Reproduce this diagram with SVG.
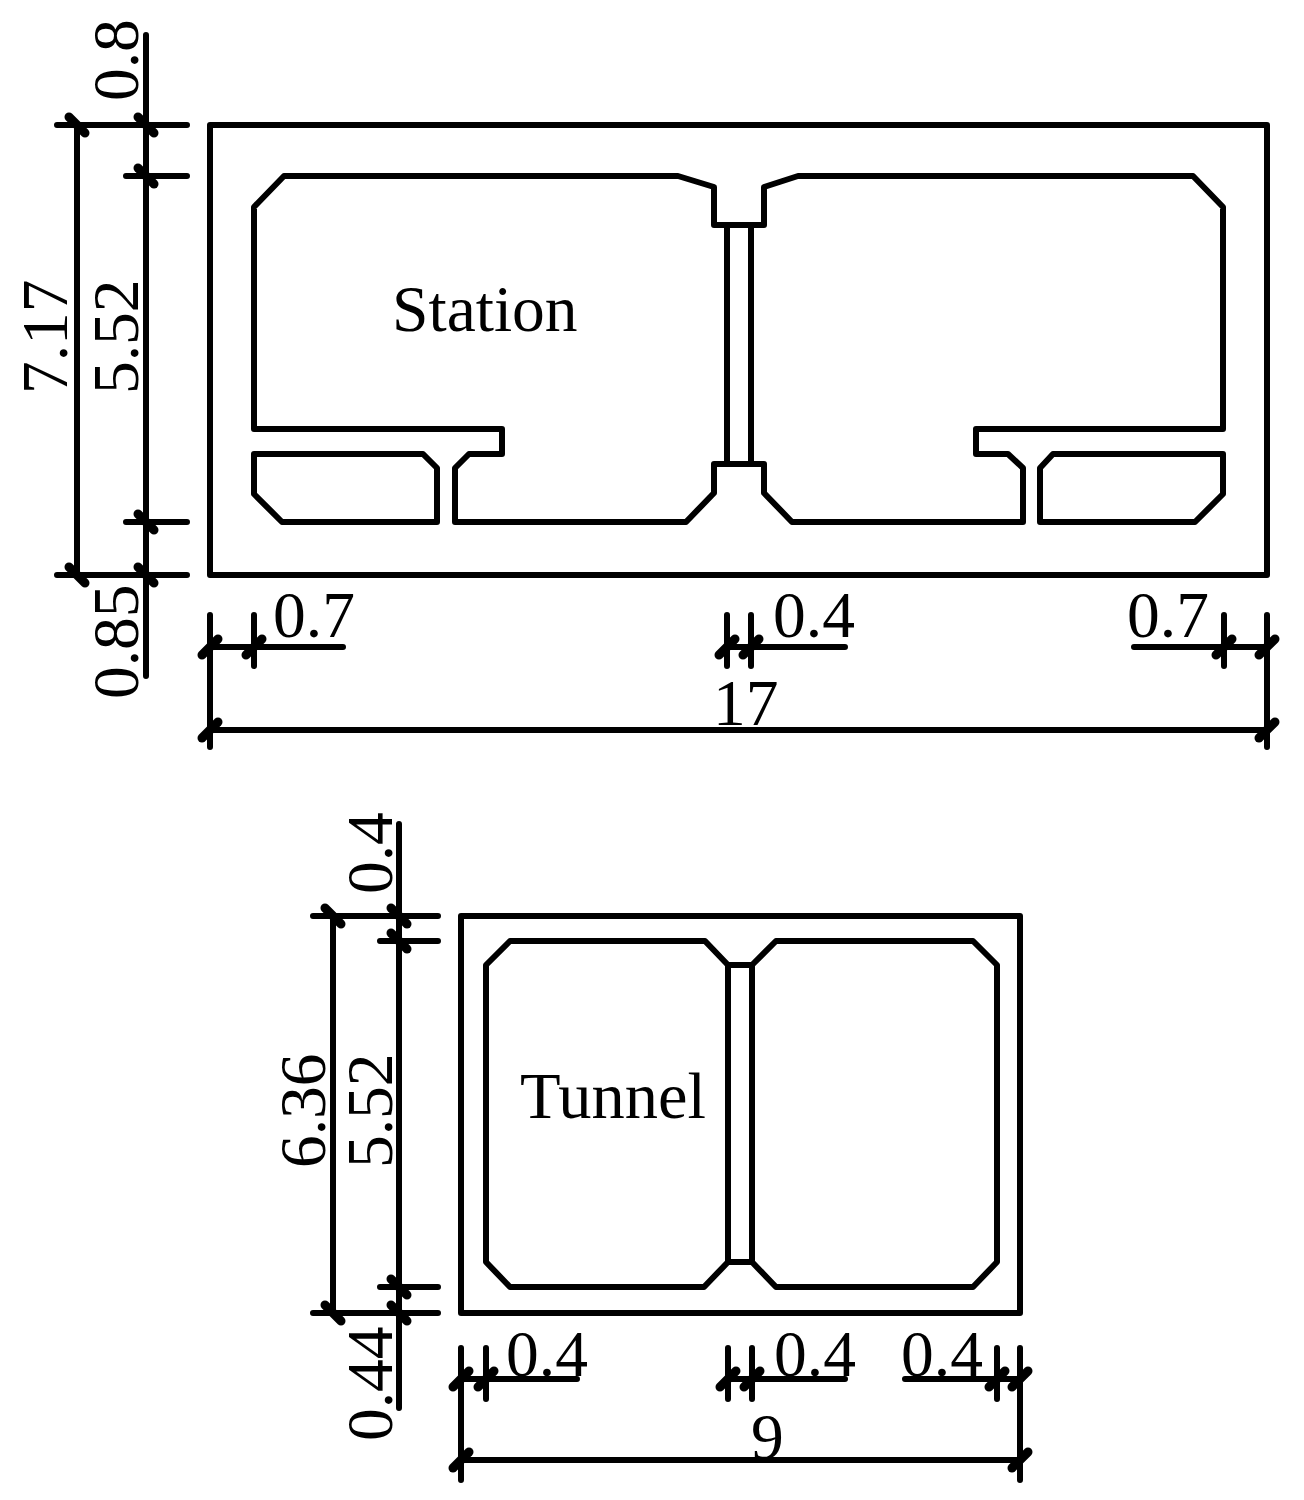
<svg xmlns="http://www.w3.org/2000/svg" xmlns:xlink="http://www.w3.org/1999/xlink" width="1304" height="1500" viewBox="0 0 1304 1500">
<style>
.s{fill:none;stroke:#000;stroke-width:6;stroke-linejoin:round;stroke-linecap:round}
.b{stroke-linecap:butt}
.t{stroke:#000;stroke-width:9;stroke-linecap:round;fill:none}
text{font-family:"Liberation Serif","Times New Roman",serif;font-size:65.5px;fill:#000}
</style>
<defs>
<line id="a" class="t" x1="-8" y1="-8" x2="8" y2="8"/>
<line id="c" class="t" x1="-8" y1="8" x2="8" y2="-8"/>
</defs>
<rect width="1304" height="1500" fill="#fff"/>
<g id="station">
<rect class="s" x="210" y="125" width="1057" height="450"/>
<path class="s" d="M254 207L284 176H678L714 187V225H764V187L798 176H1193L1223 207V429H976V454H1008L1023 468V522H792L764 493V464H714V493L686 522H455V468L469 454H502V429H254Z"/>
<path class="s" d="M254 454H423L437 468V522H282L254 494Z"/>
<path class="s" d="M1040 468L1053 454H1223V494L1195 522H1040Z"/>
<path class="s b" d="M727 225V464M751 225V464"/>
<text x="392" y="331">Station</text>
</g>
<g id="tunnel">
<rect class="s" x="461" y="916" width="559" height="397"/>
<path class="s" d="M486 965L510 941H705L728 965H752L776 941H973L997 965V1262L973 1287H776L752 1262H728L704 1287H510L486 1262Z"/>
<path class="s b" d="M728 965V1262M752 965V1262"/>
<text x="520" y="1118" textLength="186" lengthAdjust="spacingAndGlyphs">Tunnel</text>
</g>
<g id="connectors">
<path class="s" d="M146 35V676M77 125V575M57 125H187M126 176H187M126 522H187M57 575H187"/>
<path class="s" d="M210 615V747M254 615V666M210 647H343M210 730H1267M727 615V666M751 615V666M727 647H845M1224 615V666M1267 615V747M1134 647H1267"/>
<path class="s" d="M399 824V1408M333 916V1313M313 916H438M380 941H438M380 1287H438M313 1313H438"/>
<path class="s" d="M461 1348V1480M486 1348V1399M461 1379H577M728 1348V1399M752 1348V1399M728 1379H845M997 1348V1399M1020 1348V1480M905 1379H1020M461 1460H1020"/>
<use xlink:href="#a" x="77" y="125"/><use xlink:href="#a" x="146" y="125"/><use xlink:href="#a" x="146" y="176"/><use xlink:href="#a" x="146" y="522"/><use xlink:href="#a" x="77" y="575"/><use xlink:href="#a" x="146" y="575"/>
<use xlink:href="#c" x="210" y="647"/><use xlink:href="#c" x="254" y="647"/><use xlink:href="#c" x="727" y="647"/><use xlink:href="#c" x="751" y="647"/><use xlink:href="#c" x="1224" y="647"/><use xlink:href="#c" x="1267" y="647"/><use xlink:href="#c" x="210" y="730"/><use xlink:href="#c" x="1267" y="730"/>
<use xlink:href="#a" x="333" y="916"/><use xlink:href="#a" x="399" y="916"/><use xlink:href="#a" x="399" y="941"/><use xlink:href="#a" x="399" y="1287"/><use xlink:href="#a" x="333" y="1313"/><use xlink:href="#a" x="399" y="1313"/>
<use xlink:href="#c" x="461" y="1379"/><use xlink:href="#c" x="486" y="1379"/><use xlink:href="#c" x="728" y="1379"/><use xlink:href="#c" x="752" y="1379"/><use xlink:href="#c" x="997" y="1379"/><use xlink:href="#c" x="1020" y="1379"/><use xlink:href="#c" x="461" y="1460"/><use xlink:href="#c" x="1020" y="1460"/>
</g>
<g id="labels">
<text x="273" y="637">0.7</text><text x="773" y="637">0.4</text><text x="1127" y="637">0.7</text><text x="713" y="725">17</text>
<text x="506" y="1376">0.4</text><text x="774" y="1376">0.4</text><text x="901" y="1376">0.4</text><text x="751" y="1459">9</text>
<text transform="translate(138 101) rotate(-90)">0.8</text>
<text transform="translate(138 394) rotate(-90)">5.52</text>
<text transform="translate(67 394) rotate(-90)">7.17</text>
<text transform="translate(138 699) rotate(-90)">0.85</text>
<text transform="translate(392 894) rotate(-90)">0.4</text>
<text transform="translate(392 1168) rotate(-90)">5.52</text>
<text transform="translate(325 1168) rotate(-90)">6.36</text>
<text transform="translate(392 1441) rotate(-90)">0.44</text>
</g>
</svg>
